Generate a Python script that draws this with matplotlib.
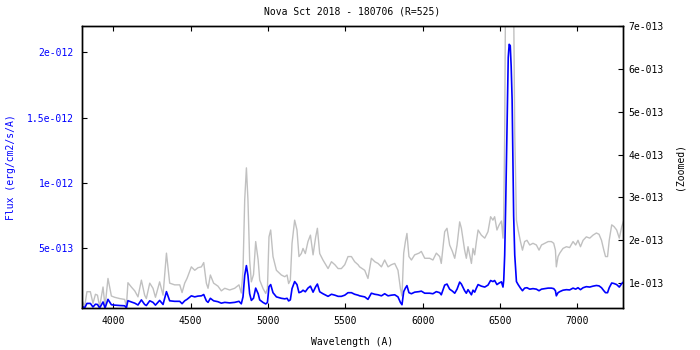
import matplotlib
matplotlib.use("Agg")
import matplotlib.pyplot as plt
from matplotlib.ticker import FuncFormatter, FixedLocator
import numpy as np

title = "Nova Sct 2018 - 180706 (R=525)"
xlabel = "Wavelength (A)"
ylabel_left = "Flux (erg/cm2/s/A)"
ylabel_right = "(Zoomed)"

wavelength = [
    3797, 3814, 3829, 3851, 3868, 3884, 3897, 3911, 3933, 3946, 3965, 3987, 4008, 4041, 4073,
    4084, 4094, 4116, 4138, 4159, 4181, 4202, 4213, 4235, 4256, 4272, 4299, 4321, 4343, 4364,
    4396, 4429, 4444, 4461, 4476, 4504, 4526, 4547, 4569, 4584, 4601, 4612, 4627, 4648, 4676,
    4698, 4720, 4752, 4784, 4812, 4827, 4838, 4849, 4860, 4870, 4881, 4892, 4906, 4920, 4936,
    4946, 4968, 4985, 4996, 5006, 5017, 5032, 5054, 5086, 5108, 5123, 5133, 5144, 5155, 5172,
    5187, 5200, 5215, 5226, 5241, 5258, 5274, 5291, 5308, 5319, 5334, 5355, 5388, 5410, 5432,
    5453, 5474, 5496, 5517, 5539, 5560, 5582, 5592, 5625, 5646, 5668, 5690, 5711, 5733, 5754,
    5776, 5797, 5819, 5840, 5856, 5866, 5877, 5888, 5898, 5911, 5927, 5948, 5976, 5991, 6013,
    6045, 6066, 6088, 6110, 6120, 6142, 6157, 6174, 6192, 6207, 6222, 6239, 6250, 6271, 6282,
    6293, 6315, 6325, 6336, 6347, 6358, 6379, 6401, 6422, 6439, 6454, 6465, 6480, 6493, 6509,
    6519, 6524, 6530, 6537, 6546, 6553, 6559, 6566, 6572, 6578, 6583, 6588, 6595, 6606, 6617,
    6632, 6645, 6659, 6674, 6692, 6713, 6735, 6752, 6768, 6789, 6811, 6832, 6847, 6858, 6864,
    6875, 6886, 6907, 6929, 6950, 6972, 6989, 7004, 7020, 7037, 7058, 7080, 7101, 7123, 7140,
    7156, 7171, 7182, 7195, 7206, 7222, 7237, 7254, 7271, 7287, 7297,
]

# flux in units of 1e-13 erg/cm2/s/A
flux_e13 = [
    0.60, 0.45, 0.80, 0.80, 0.53, 0.74, 0.72, 0.45, 0.91, 0.45, 1.11, 0.70, 0.67, 0.64, 0.62,
    0.45, 1.01, 0.91, 0.82, 0.68, 1.07, 0.72, 0.64, 1.00, 0.88, 0.67, 1.03, 0.72, 1.70, 1.00,
    0.96, 0.96, 0.78, 1.00, 1.11, 1.38, 1.30, 1.36, 1.38, 1.48, 1.00, 0.88, 1.19, 1.00, 0.93,
    0.82, 0.88, 0.84, 0.88, 0.96, 0.77, 1.30, 2.94, 3.69, 2.94, 1.54, 1.03, 1.20, 1.97, 1.54,
    1.07, 0.87, 0.76, 0.87, 2.08, 2.24, 1.62, 1.30, 1.19, 1.15, 1.19, 0.99, 1.07, 1.93, 2.47,
    2.24, 1.62, 1.69, 1.81, 1.69, 1.97, 2.12, 1.66, 2.08, 2.28, 1.69, 1.54, 1.34, 1.50, 1.43,
    1.34, 1.34, 1.43, 1.62, 1.62, 1.50, 1.43, 1.38, 1.30, 1.11, 1.58, 1.50, 1.46, 1.38, 1.54,
    1.38, 1.43, 1.46, 1.30, 0.87, 0.70, 1.70, 1.97, 2.16, 1.62, 1.54, 1.66, 1.70, 1.74, 1.58,
    1.58, 1.54, 1.70, 1.62, 1.46, 2.20, 2.28, 1.89, 1.74, 1.58, 1.89, 2.43, 2.28, 1.77, 1.58,
    1.85, 1.46, 1.81, 1.66, 1.97, 2.24, 2.12, 2.05, 2.20, 2.55, 2.47, 2.55, 2.24, 2.35, 2.45,
    2.05, 2.60, 4.50, 8.70, 14.8, 19.6, 20.6, 20.5, 18.9, 16.4, 12.0, 7.50, 4.50, 2.47, 2.24,
    1.97, 1.77, 1.97, 2.00, 1.89, 1.93, 1.89, 1.77, 1.89, 1.93, 1.97, 1.97, 1.93, 1.77, 1.38,
    1.62, 1.70, 1.81, 1.85, 1.83, 1.97, 1.89, 2.00, 1.85, 2.00, 2.08, 2.05, 2.12, 2.17, 2.14,
    2.00, 1.77, 1.62, 1.62, 2.00, 2.36, 2.32, 2.24, 2.05, 2.32, 2.43,
]

left_ticks = [5e-13, 1e-12, 1.5e-12, 2e-12]
right_ticks = [1e-13, 2e-13, 3e-13, 4e-13, 5e-13, 6e-13, 7e-13]
x_ticks = [4000, 4500, 5000, 5500, 6000, 6500, 7000]

wl = np.array(wavelength, dtype=float)
flux = np.array(flux_e13) * 1e-13

plt.rcParams['font.family'] = ['DejaVu Sans Mono']
fs = 7

fig = plt.figure(figsize=(7, 3.5), dpi=100)
ax = fig.add_axes([82/700, 1 - 308/350, (623-82)/700, (308-26)/350])
ax2 = ax.twinx()
ax.set_zorder(ax2.get_zorder() + 1)
ax.patch.set_visible(False)

ax2.plot(wl, flux, color='#c0c0c0', lw=1.0)
ax.plot(wl, flux, color='#0000ff', lw=1.2)

ax.set_xlim(3797, 7295)
ax.set_ylim(4.5e-14, 2.2e-12)
ax2.set_ylim(4.2e-14, 7e-13)


def sci(v, pos):
    s = '%g' % v
    mant, exp = s.split('e')
    sign = exp[0]
    digits = exp[1:].lstrip('0')
    return '%se%s%03d' % (mant, sign, int(digits))


ax.yaxis.set_major_locator(FixedLocator(left_ticks))
ax.yaxis.set_major_formatter(FuncFormatter(sci))
ax2.yaxis.set_major_locator(FixedLocator(right_ticks))
ax2.yaxis.set_major_formatter(FuncFormatter(sci))
ax.xaxis.set_major_locator(FixedLocator(x_ticks))

ax.tick_params(axis='x', direction='in', length=3.5, width=0.8, top=True,
               labelsize=fs, pad=6, colors='black')
ax.tick_params(axis='y', direction='in', length=3.5, width=0.8, labelsize=fs,
               labelcolor='#0000ff', pad=6)
ax2.tick_params(axis='y', direction='in', length=3.5, width=0.8, labelsize=fs, pad=4)

for a in (ax, ax2):
    for sp in a.spines.values():
        sp.set_linewidth(1.0)
        sp.set_color('black')

ax.set_title(title, fontsize=fs, pad=8)
ax.set_xlabel(xlabel, fontsize=fs, labelpad=8)
ax.set_ylabel(ylabel_left, fontsize=fs, color='#0000ff', labelpad=8)
ax2.set_ylabel(ylabel_right, fontsize=fs, labelpad=8)

fig.savefig('out.png', dpi=100)
